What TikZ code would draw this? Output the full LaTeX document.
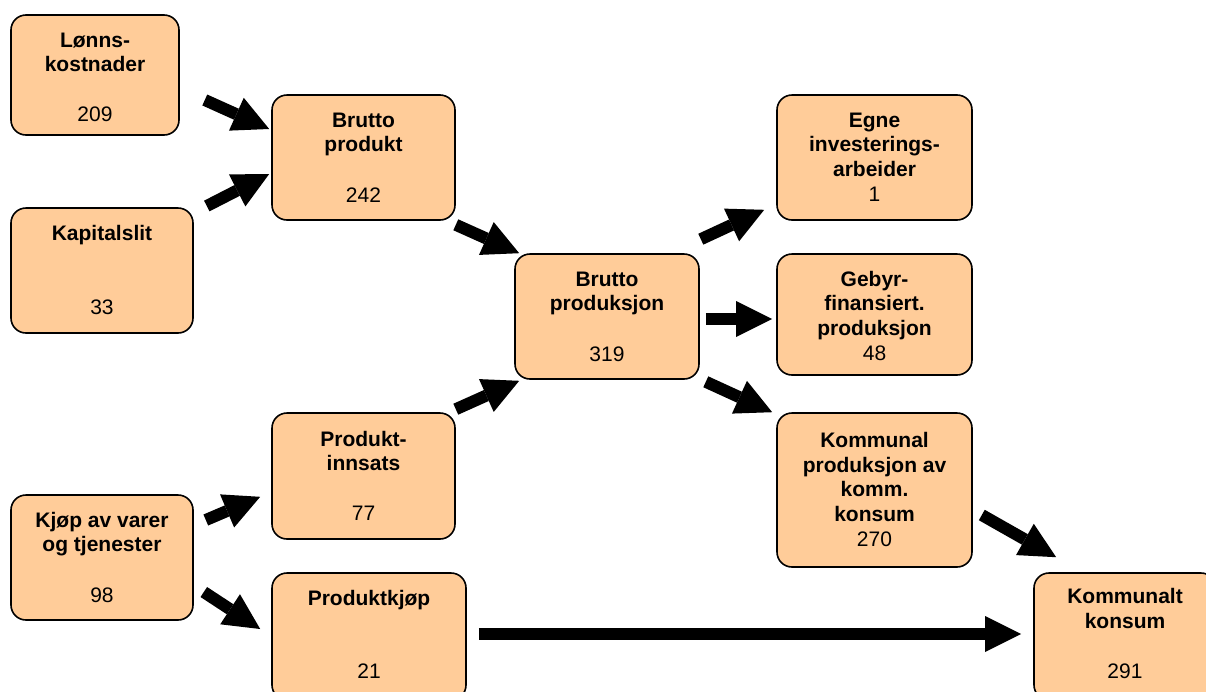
\documentclass[tikz,border=0pt]{standalone}
\usepackage{fontspec}
\setmainfont{Liberation Sans}
\usetikzlibrary{arrows.meta}
\definecolor{peach}{RGB}{255,204,153}
\begin{document}
\begin{tikzpicture}[x=1pt,y=-1pt,
  box/.style={draw=black, line width=1.6pt, fill=peach, rounded corners=15pt, inner sep=0pt},
  ttl/.style={font=\fontsize{21}{24.5}\selectfont\bfseries, align=center, anchor=base, inner sep=0pt},
  num/.style={font=\fontsize{21}{24.5}\selectfont, anchor=base, inner sep=0pt},
  arr/.style={line width=12pt, -{Triangle[length=36pt,width=36pt,line width=0pt]}}]
\useasboundingbox (0,0) rectangle (1206,691);
\clip (0,0) rectangle (1206,691);
% boxes
\node[box, minimum width=168pt, minimum height=120pt] (lon) at (95,75) {};
\node[box, minimum width=182pt, minimum height=125pt] (kap) at (102,270.5) {};
\node[box, minimum width=182pt, minimum height=125pt] (kjop) at (102,557.5) {};
\node[box, minimum width=183pt, minimum height=125pt] (bp) at (363.5,157.5) {};
\node[box, minimum width=183pt, minimum height=126pt] (pi) at (363.5,476) {};
\node[box, minimum width=194pt, minimum height=127pt] (pk) at (369,636.5) {};
\node[box, minimum width=184pt, minimum height=125pt] (bpr) at (607,316.5) {};
\node[box, minimum width=195pt, minimum height=125pt] (egne) at (874.5,157.5) {};
\node[box, minimum width=195pt, minimum height=121pt] (geb) at (874.5,314.5) {};
\node[box, minimum width=195pt, minimum height=154pt] (kom) at (874.5,490) {};
\node[box, minimum width=182pt, minimum height=127pt] (kk) at (1125,636.5) {};
% titles (base anchor = baseline of last line)
\node[ttl] (lonT) at ([shift={(0,57.5)}]lon.north) {Lønns-\\kostnader};
\node[num] (lonN) at ([shift={(0,107)}]lon.north) {209};
\node[ttl] (kapT) at ([shift={(0,33)}]kap.north) {Kapitalslit};
\node[num] (kapN) at ([shift={(0,107)}]kap.north) {33};
\node[ttl] (kjopT) at ([shift={(0,57.5)}]kjop.north) {Kjøp av varer\\og tjenester};
\node[num] (kjopN) at ([shift={(0,108)}]kjop.north) {98};
\node[ttl] (bpT) at ([shift={(0,57.5)}]bp.north) {Brutto\\produkt};
\node[num] (bpN) at ([shift={(0,108)}]bp.north) {242};
\node[ttl] (piT) at ([shift={(0,58.5)}]pi.north) {Produkt-\\innsats};
\node[num] (piN) at ([shift={(0,108)}]pi.north) {77};
\node[ttl] (pkT) at ([shift={(0,33)}]pk.north) {Produktkjøp};
\node[num] (pkN) at ([shift={(0,106)}]pk.north) {21};
\node[ttl] (bprT) at ([shift={(0,57.5)}]bpr.north) {Brutto\\produksjon};
\node[num] (bprN) at ([shift={(0,108)}]bpr.north) {319};
\node[ttl] (egneT) at ([shift={(0,82)}]egne.north) {Egne\\investerings-\\arbeider};
\node[num] (egneN) at ([shift={(0,107)}]egne.north) {1};
\node[ttl] (gebT) at ([shift={(0,82)}]geb.north) {Gebyr-\\finansiert.\\produksjon};
\node[num] (gebN) at ([shift={(0,107)}]geb.north) {48};
\node[ttl] (komT) at ([shift={(0,109)}]kom.north) {Kommunal\\produksjon av\\komm.\\konsum};
\node[num] (komN) at ([shift={(0,134)}]kom.north) {270};
\node[ttl] (kkT) at ([shift={(0,56)}]kk.north) {Kommunalt\\konsum};
\node[num] (kkN) at ([shift={(0,106)}]kk.north) {291};
% arrows
\draw[arr] ([shift={(25,25)}]lon.east) -- ([shift={(-2,-28.5)}]bp.west);
\draw[arr] ([shift={(13,-64.5)}]kap.east) -- ([shift={(-2,16.5)}]bp.west);
\draw[arr] ([shift={(0,4)}]bp.south east) -- ([shift={(5,0)}]bpr.north west);
\draw[arr] ([shift={(0,-3)}]pi.north east) -- ([shift={(5,1)}]bpr.south west);
\draw[arr] ([shift={(1,-14)}]bpr.north east) -- ([shift={(-12,-11)}]egne.south west);
\draw[arr] ([shift={(6,2.5)}]bpr.east) -- ([shift={(-4,4.5)}]geb.west);
\draw[arr] ([shift={(6,2)}]bpr.south east) -- ([shift={(-4,0)}]kom.north west);
\draw[arr] ([shift={(9,25)}]kom.east) -- ([shift={(23,-15)}]kk.north west);
\draw[arr] ([shift={(12,-37.5)}]kjop.east) -- ([shift={(-11,-43)}]pi.south west);
\draw[arr] ([shift={(10,34.5)}]kjop.east) -- ([shift={(-11,-7.5)}]pk.west);
\draw[arr] ([shift={(12,-2.5)}]pk.east) -- ([shift={(-12,-2.5)}]kk.west);
\end{tikzpicture}
\end{document}
